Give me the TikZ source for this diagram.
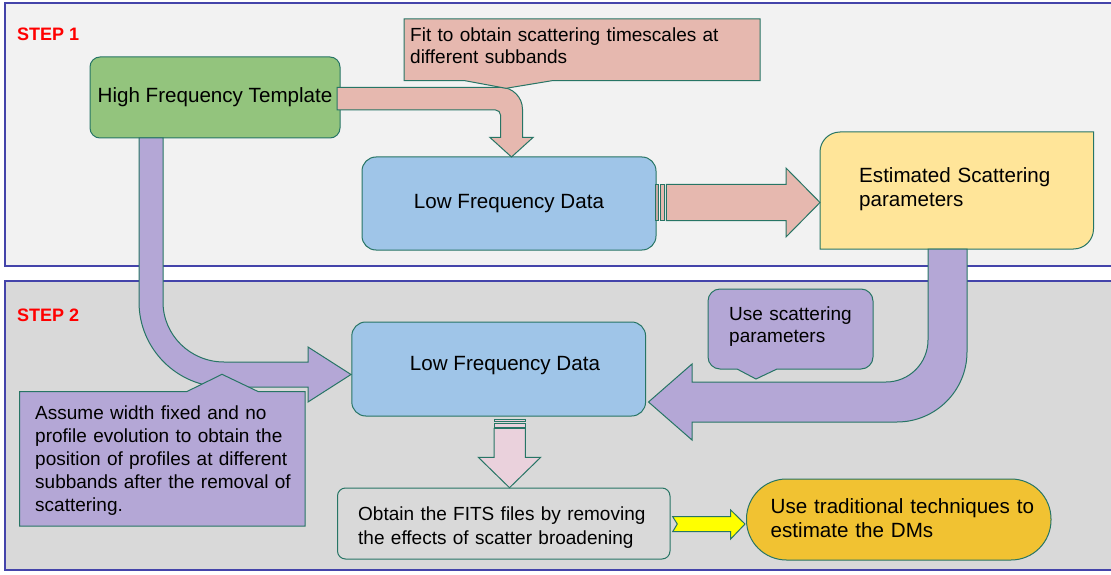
\documentclass[tikz,border=0pt]{standalone}
\usepackage{fontspec}
\setmainfont{Liberation Sans}
\definecolor{edge}{HTML}{277565}
\definecolor{panelblue}{HTML}{4444AA}
\definecolor{panelA}{HTML}{F2F2F2}
\definecolor{panelB}{HTML}{D9D9D9}
\definecolor{stepred}{HTML}{FF0000}
\definecolor{hftgreen}{HTML}{93C47D}
\definecolor{lfdblue}{HTML}{9FC5E8}
\definecolor{estyellow}{HTML}{FFE599}
\definecolor{pinkarrow}{HTML}{E6B8AF}
\definecolor{lightpink}{HTML}{EAD1DC}
\definecolor{purplearrow}{HTML}{B4A7D6}
\definecolor{brightyellow}{HTML}{FFFF00}
\definecolor{dmgold}{HTML}{F1C232}
\begin{document}
\begin{tikzpicture}[x=1pt,y=-1pt,
  blk/.style={draw=edge, line width=1pt, line join=miter},
  boxnode/.style={blk, inner sep=0pt, font=\fontsize{20.6}{24}\selectfont},
  lbl/.style={inner sep=0pt, anchor=base west, align=left},
  bigtxt/.style={font=\fontsize{20.6}{24}\selectfont},
  steplbl/.style={inner sep=0pt, anchor=base west, text=stepred, font=\bfseries\fontsize{18}{20}\selectfont},
  panel/.style={draw=panelblue, line width=1.2pt}]
\useasboundingbox (0,0) rectangle (1111,575);
\fill[white] (0,0) rectangle (1111,575);
% panels
\draw[panel, fill=panelA] (5,3) rectangle (1120,266);
\draw[panel, fill=panelB] (5,281) rectangle (1120,570);
\node[steplbl] (s1) at (17,41) {STEP 1};
\node[steplbl] (s2) at (17,321) {STEP 2};

% boxes
\node[boxnode, fill=hftgreen, rounded corners=10pt, minimum width=250pt, minimum height=81pt] (hft) at (215,97.5) {High Frequency Template};
\node[boxnode, fill=lfdblue, rounded corners=14pt, minimum width=294pt, minimum height=93pt] (lfd1) at (509,203.5) {Low Frequency Data};
\draw[blk, fill=estyellow] (840,132) -- (1093.5,132) -- (1093.5,229)
  .. controls (1093.5,240) and (1084.5,249) .. (1073.5,249) -- (820,249) -- (820,152)
  .. controls (820,141) and (829,132) .. (840,132) -- cycle;
\node[lbl, bigtxt, text width=230pt] (esttext) at (859,182.7) {Estimated Scattering\\parameters};

\node[boxnode, fill=lfdblue, rounded corners=14pt, minimum width=293.8pt, minimum height=94pt] (lfd2) at (498.7,369) {};
\node[inner sep=0pt, anchor=base, bigtxt] (lfd2text) at (505,370) {Low Frequency Data};

\node[blk, fill=panelB, rounded corners=8pt, minimum width=332.5pt, minimum height=71pt, inner sep=0pt] (fits) at (503.75,523.5) {};
\node[lbl, text width=300pt, font=\fontsize{19}{23.3}\selectfont] (fitstext) at (358,520.7) {Obtain the FITS files by removing\\the effects of scatter broadening};

\node[blk, fill=dmgold, rounded corners=40pt, minimum width=304.5pt, minimum height=81pt, inner sep=0pt] (dms) at (898.75,519.5) {};
\node[lbl, bigtxt, font=\fontsize{20.6}{24.4}\selectfont, text width=280pt] (dmstext) at (770.5,513.3) {Use traditional techniques to\\estimate the DMs};

% pink bent arrow (HFT -> LFD1)
\draw[blk, fill=pinkarrow] (337,87.3) -- (500.5,87.3)
  .. controls (512.6,87.3) and (522.5,97.2) .. (522.5,109.3) -- (522.5,137.5)
  -- (533,137.5) -- (511.5,157) -- (490,137.5) -- (500.5,137.5) -- (500.5,115)
  .. controls (500.5,112.2) and (498.3,110) .. (495.5,110) -- (337,110) -- cycle;

% pink right arrow (LFD1 -> Est)
\draw[blk, fill=pinkarrow!70!gray] (655.3,184.3) rectangle (658.3,220.7);
\draw[blk, fill=pinkarrow] (660.3,184.3) rectangle (664.3,220.7);
\draw[blk, fill=pinkarrow] (666.3,184.3) -- (786,184.3) -- (786,168) -- (820,202.5)
  -- (786,237) -- (786,220.7) -- (666.3,220.7) -- cycle;

% purple arrow (HFT -> LFD2)
\draw[blk, fill=purplearrow] (139,138) -- (139,302)
  .. controls (139,348.9) and (177.1,387) .. (224,387) -- (308,387) -- (308,402)
  -- (351,374.5) -- (308,347) -- (308,362) -- (224,362)
  .. controls (190.3,362) and (163,335.1) .. (163,302) -- (163,138) -- cycle;

% purple arrow (Est -> LFD2)
\draw[blk, fill=purplearrow] (928,249) -- (928,340)
  .. controls (928,363.2) and (909.2,382) .. (886,382) -- (692,382) -- (692,364)
  -- (648.5,402) -- (692,440) -- (692,422) -- (897,422)
  .. controls (935.6,422) and (967,390.6) .. (967,352) -- (967,249) -- cycle;

% light pink down arrow (LFD2 -> FITS)
\draw[blk, fill=lightpink] (494,419) rectangle (525.3,421.3);
\draw[blk, fill=lightpink] (494,423.3) rectangle (525.3,427);
\draw[blk, fill=lightpink] (494,428.3) -- (494,457.3) -- (478.3,457.3) -- (509.5,487.7)
  -- (540.7,457.3) -- (525.3,457.3) -- (525.3,428.3) -- cycle;

% yellow arrow (FITS -> DMs)
\draw[blk, fill=brightyellow] (672.7,516.7) -- (730.7,516.7) -- (730.7,510) -- (745,524)
  -- (730.7,539) -- (730.7,531.7) -- (672.7,531.7) -- (677.3,524) -- cycle;

% callouts
\draw[blk, fill=pinkarrow] (404,19) -- (760,19) -- (760,80.7) -- (552,80.7) -- (506,88.3)
  -- (465,80.7) -- (404,80.7) -- cycle;
\node[lbl, text width=350pt, font=\fontsize{19}{21.6}\selectfont] (fittext) at (410,41.7) {Fit to obtain scattering timescales at\\different subbands};

\draw[blk, fill=purplearrow] (19.6,391.5) -- (187,391.5) -- (222,374.3) -- (258,391.5)
  -- (305,391.5) -- (305,526) -- (19.6,526) -- cycle;
\node[lbl, text width=275pt, font=\fontsize{19}{23.1}\selectfont] (assumetext) at (35,419.5) {Assume width fixed and no\\profile evolution to obtain the\\position of profiles at different\\subbands after the removal of\\scattering.};

\draw[blk, fill=purplearrow] (720,289) -- (861,289)
  .. controls (867.6,289) and (873,294.4) .. (873,301) -- (873,357)
  .. controls (873,363.6) and (867.6,369) .. (861,369) -- (777,369) -- (756,379)
  -- (737,369) -- (720,369) .. controls (713.4,369) and (708,363.6) .. (708,357)
  -- (708,301) .. controls (708,294.4) and (713.4,289) .. (720,289) -- cycle;
\node[lbl, text width=150pt, font=\fontsize{19}{22}\selectfont] (usetext) at (729,320.7) {Use scattering\\parameters};
\end{tikzpicture}
\end{document}
